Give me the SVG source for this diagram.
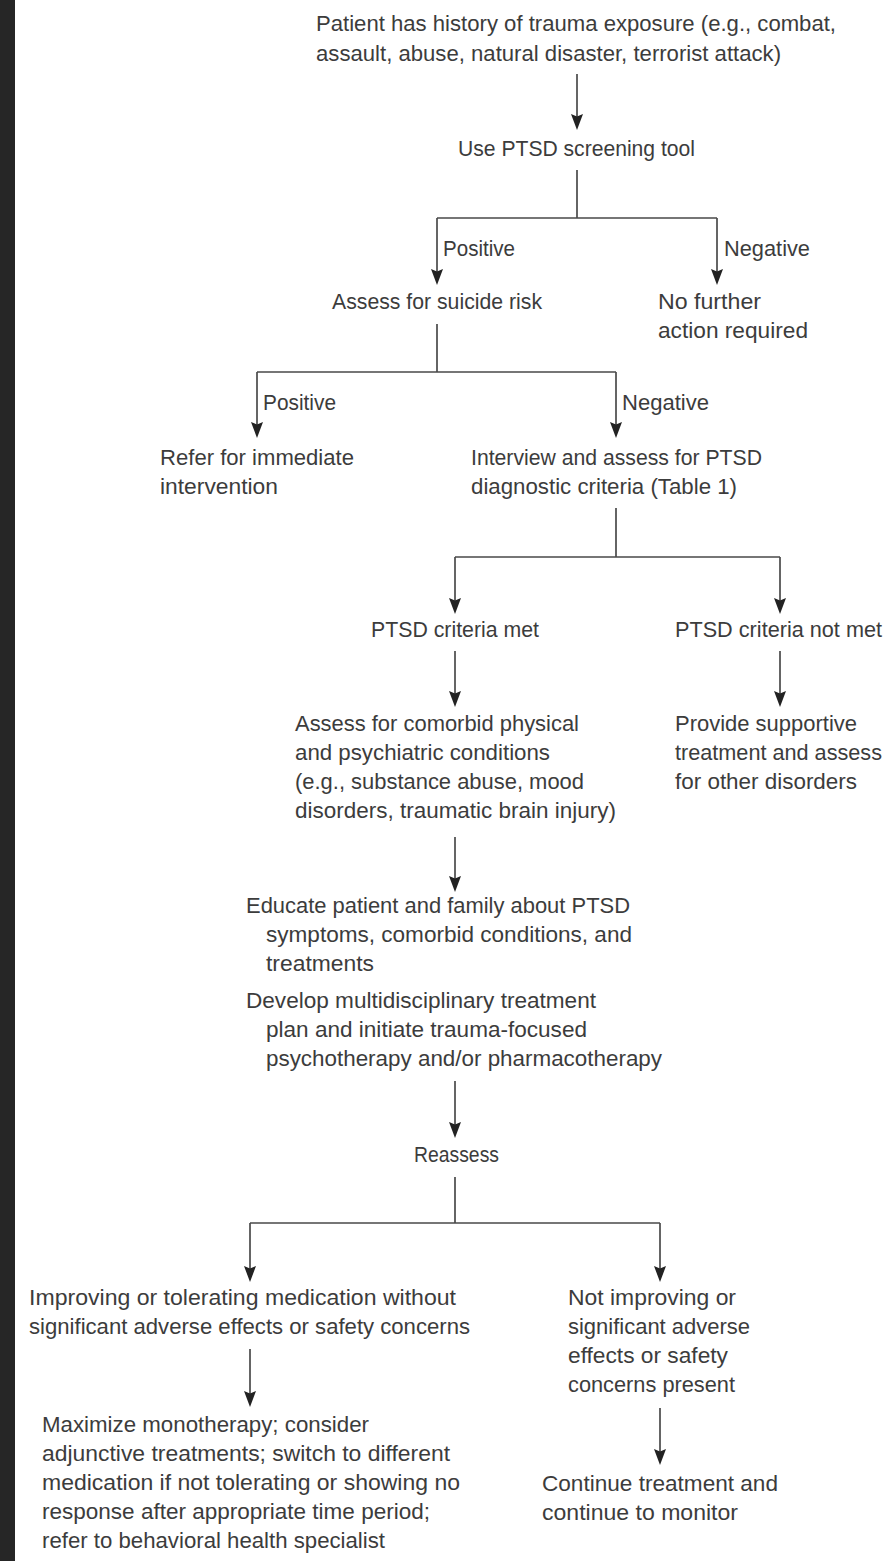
<svg xmlns="http://www.w3.org/2000/svg" width="892" height="1561" viewBox="0 0 892 1561">
<style>
text{font-family:"Liberation Sans",Arial,sans-serif;font-size:22px;fill:#3c3c3c}
.c{stroke:#4a4a4a;stroke-width:1.7;fill:none}
.a{marker-end:url(#ah)}
</style>
<defs>
<marker id="ah" markerUnits="userSpaceOnUse" viewBox="0 0 16 12" refX="13" refY="6" markerWidth="16" markerHeight="12" orient="auto">
<path d="M0,0 L16,6 L0,12 L2.5,6 z" fill="#222"/>
</marker>
</defs>
<rect x="0" y="0" width="892" height="1561" fill="#fff"/>
<rect x="0" y="0" width="15" height="1561" fill="#262626"/>
<g id="connectors">
<path class="c a" d="M577,74 V127"/>
<path class="c" d="M577,170 V218 M437,218 H717"/>
<path class="c a" d="M437,218 V282"/>
<path class="c a" d="M717,218 V282"/>
<path class="c" d="M437,324 V372 M257,372 H616"/>
<path class="c a" d="M257,372 V435"/>
<path class="c a" d="M616,372 V435"/>
<path class="c" d="M616,508 V557 M455,557 H780"/>
<path class="c a" d="M455,557 V611"/>
<path class="c a" d="M780,557 V611"/>
<path class="c a" d="M455,651 V704"/>
<path class="c a" d="M780,651 V704"/>
<path class="c a" d="M455,837 V889"/>
<path class="c a" d="M455,1081 V1135"/>
<path class="c" d="M455,1177 V1223 M250,1223 H660"/>
<path class="c a" d="M250,1223 V1279"/>
<path class="c a" d="M660,1223 V1279"/>
<path class="c a" d="M250,1349 V1404"/>
<path class="c a" d="M660,1408 V1462"/>
<text x="443" y="256" textLength="72" lengthAdjust="spacingAndGlyphs">Positive</text>
<text x="724" y="256" textLength="86" lengthAdjust="spacingAndGlyphs">Negative</text>
<text x="263" y="410" textLength="73" lengthAdjust="spacingAndGlyphs">Positive</text>
<text x="622" y="410" textLength="87" lengthAdjust="spacingAndGlyphs">Negative</text>
</g>
<g id="trauma">
<text x="316" y="31" textLength="520" lengthAdjust="spacingAndGlyphs">Patient has history of trauma exposure (e.g., combat,</text>
<text x="316" y="61" textLength="465" lengthAdjust="spacingAndGlyphs">assault, abuse, natural disaster, terrorist attack)</text>
</g>
<g id="screening">
<text x="458" y="156" textLength="237" lengthAdjust="spacingAndGlyphs">Use PTSD screening tool</text>
</g>
<g id="suicide">
<text x="332" y="309" textLength="210" lengthAdjust="spacingAndGlyphs">Assess for suicide risk</text>
</g>
<g id="nofurther">
<text x="658" y="309" textLength="103" lengthAdjust="spacingAndGlyphs">No further</text>
<text x="658" y="338" textLength="150" lengthAdjust="spacingAndGlyphs">action required</text>
</g>
<g id="refer">
<text x="160" y="465" textLength="194" lengthAdjust="spacingAndGlyphs">Refer for immediate</text>
<text x="160" y="494" textLength="118" lengthAdjust="spacingAndGlyphs">intervention</text>
</g>
<g id="interview">
<text x="471" y="465" textLength="291" lengthAdjust="spacingAndGlyphs">Interview and assess for PTSD</text>
<text x="471" y="494" textLength="266" lengthAdjust="spacingAndGlyphs">diagnostic criteria (Table 1)</text>
</g>
<g id="met">
<text x="371" y="637" textLength="168" lengthAdjust="spacingAndGlyphs">PTSD criteria met</text>
</g>
<g id="notmet">
<text x="675" y="637" textLength="207" lengthAdjust="spacingAndGlyphs">PTSD criteria not met</text>
</g>
<g id="comorbid">
<text x="295" y="731" textLength="284" lengthAdjust="spacingAndGlyphs">Assess for comorbid physical</text>
<text x="295" y="760" textLength="255" lengthAdjust="spacingAndGlyphs">and psychiatric conditions</text>
<text x="295" y="789" textLength="289" lengthAdjust="spacingAndGlyphs">(e.g., substance abuse, mood</text>
<text x="295" y="818" textLength="321" lengthAdjust="spacingAndGlyphs">disorders, traumatic brain injury)</text>
</g>
<g id="supportive">
<text x="675" y="731" textLength="182" lengthAdjust="spacingAndGlyphs">Provide supportive</text>
<text x="675" y="760" textLength="207" lengthAdjust="spacingAndGlyphs">treatment and assess</text>
<text x="675" y="789" textLength="182" lengthAdjust="spacingAndGlyphs">for other disorders</text>
</g>
<g id="educate">
<text x="246" y="913" textLength="384" lengthAdjust="spacingAndGlyphs">Educate patient and family about PTSD</text>
<text x="266" y="942" textLength="366" lengthAdjust="spacingAndGlyphs">symptoms, comorbid conditions, and</text>
<text x="266" y="971" textLength="108" lengthAdjust="spacingAndGlyphs">treatments</text>
<text x="246" y="1008" textLength="350" lengthAdjust="spacingAndGlyphs">Develop multidisciplinary treatment</text>
<text x="266" y="1037" textLength="321" lengthAdjust="spacingAndGlyphs">plan and initiate trauma-focused</text>
<text x="266" y="1066" textLength="396" lengthAdjust="spacingAndGlyphs">psychotherapy and/or pharmacotherapy</text>
</g>
<g id="reassess">
<text x="414" y="1162" textLength="85" lengthAdjust="spacingAndGlyphs">Reassess</text>
</g>
<g id="improving">
<text x="29" y="1305" textLength="427" lengthAdjust="spacingAndGlyphs">Improving or tolerating medication without</text>
<text x="29" y="1334" textLength="441" lengthAdjust="spacingAndGlyphs">significant adverse effects or safety concerns</text>
</g>
<g id="notimproving">
<text x="568" y="1305" textLength="168" lengthAdjust="spacingAndGlyphs">Not improving or</text>
<text x="568" y="1334" textLength="182" lengthAdjust="spacingAndGlyphs">significant adverse</text>
<text x="568" y="1363" textLength="160" lengthAdjust="spacingAndGlyphs">effects or safety</text>
<text x="568" y="1392" textLength="167" lengthAdjust="spacingAndGlyphs">concerns present</text>
</g>
<g id="maximize">
<text x="42" y="1432" textLength="327" lengthAdjust="spacingAndGlyphs">Maximize monotherapy; consider</text>
<text x="42" y="1461" textLength="408" lengthAdjust="spacingAndGlyphs">adjunctive treatments; switch to different</text>
<text x="42" y="1490" textLength="418" lengthAdjust="spacingAndGlyphs">medication if not tolerating or showing no</text>
<text x="42" y="1519" textLength="388" lengthAdjust="spacingAndGlyphs">response after appropriate time period;</text>
<text x="42" y="1548" textLength="343" lengthAdjust="spacingAndGlyphs">refer to behavioral health specialist</text>
</g>
<g id="continue">
<text x="542" y="1491" textLength="236" lengthAdjust="spacingAndGlyphs">Continue treatment and</text>
<text x="542" y="1520" textLength="196" lengthAdjust="spacingAndGlyphs">continue to monitor</text>
</g>
</svg>
